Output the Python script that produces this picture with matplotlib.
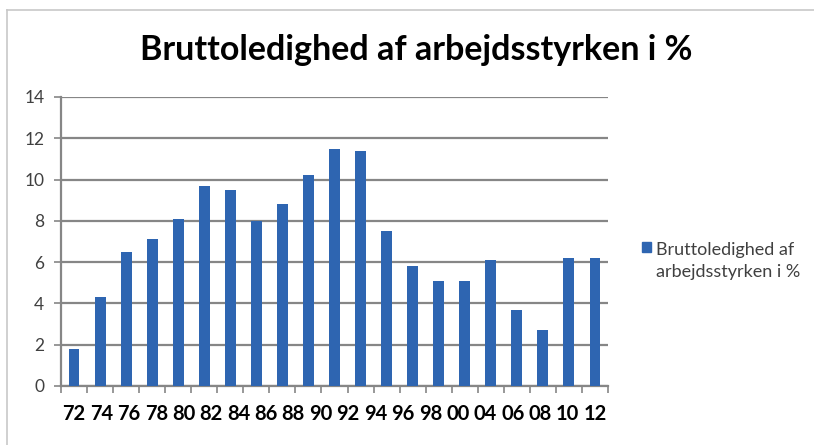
import matplotlib
matplotlib.use("Agg")
import matplotlib.pyplot as plt
import numpy as np
from matplotlib.lines import Line2D
from matplotlib.patches import Rectangle

title = "Bruttoledighed af arbejdsstyrken i %"
series_name = "Bruttoledighed af\narbejdsstyrken i %"
values = [1.8, 4.3, 6.5, 7.1, 8.1, 9.7, 9.5, 8.0, 8.8, 10.2, 11.5,
          11.4, 7.5, 5.8, 5.1, 5.1, 6.1, 3.7, 2.7, 6.2, 6.2]
tick_labels = ["72", "74", "76", "78", "80", "82", "84", "86", "88", "90",
               "92", "94", "96", "98", "00", "04", "06", "08", "10", "12"]
yticks = [0, 2, 4, 6, 8, 10, 12, 14]

bar_color = "#2E65B1"
grid_color = "#868686"
text_gray = "#404040"

fig = plt.figure(figsize=(8.14, 4.45), dpi=100)
ax = fig.add_axes([61 / 814, 59 / 445, 547 / 814, 289 / 445])

x = np.arange(len(values))
ax.bar(x, values, width=0.42, color=bar_color, zorder=3)

ax.set_xlim(-0.5, len(values) - 0.5)
ax.set_ylim(0, 14)
ax.set_yticks(yticks)
ax.set_yticklabels([str(v) for v in yticks], fontsize=12.5, color=text_gray,
                   family="Lato")
ax.yaxis.grid(True, color=grid_color, linewidth=1.6, zorder=1)
ax.tick_params(axis="y", length=5, width=1.2, color=grid_color, pad=7)

# labels spread evenly across the bar span
ax.set_xticks(np.linspace(0, len(values) - 1, len(tick_labels)))
ax.set_xticklabels(tick_labels, fontsize=14.5, fontweight="bold",
                   family="Lato", color="black")
ax.tick_params(axis="x", length=0, pad=13)
ax.set_xticks(np.arange(-0.5, len(values) + 0.5, 1), minor=True)
ax.tick_params(axis="x", which="minor", length=5, width=1.2, color=grid_color)

for s in ["top", "right"]:
    ax.spines[s].set_visible(False)
for s in ["left", "bottom"]:
    ax.spines[s].set_color(grid_color)
    ax.spines[s].set_linewidth(1.6)
ax.set_axisbelow(True)

fig.text(416 / 814, 1 - 50 / 445, title, ha="center", va="center",
         fontsize=24.5, fontweight="bold", family="Lato", color="black")

# legend
bar_handle = Rectangle((0, 0), 1, 1, color=bar_color)
leg = fig.legend([bar_handle], [series_name], loc="center left",
                 bbox_to_anchor=(626 / 814, 1 - 261 / 445), frameon=False,
                 handlelength=0.5, handleheight=0.5, handletextpad=0.25,
                 prop={"family": "Lato", "size": 13})
for t in leg.get_texts():
    t.set_color(text_gray)
    t.set_linespacing(1.5)
try:
    for col in leg._legend_handle_box.get_children():
        for row in col.get_children():
            row.align = "top"
except Exception:
    pass

# chart border
fig.add_artist(Line2D([7 / 814, 7 / 814], [0, 1 - 10 / 445],
                      transform=fig.transFigure, color="#C8C8C8", lw=1.2))
fig.add_artist(Line2D([7 / 814, 1], [1 - 10 / 445, 1 - 10 / 445],
                      transform=fig.transFigure, color="#C8C8C8", lw=1.2))

fig.savefig("out.png", dpi=100, facecolor="white")
